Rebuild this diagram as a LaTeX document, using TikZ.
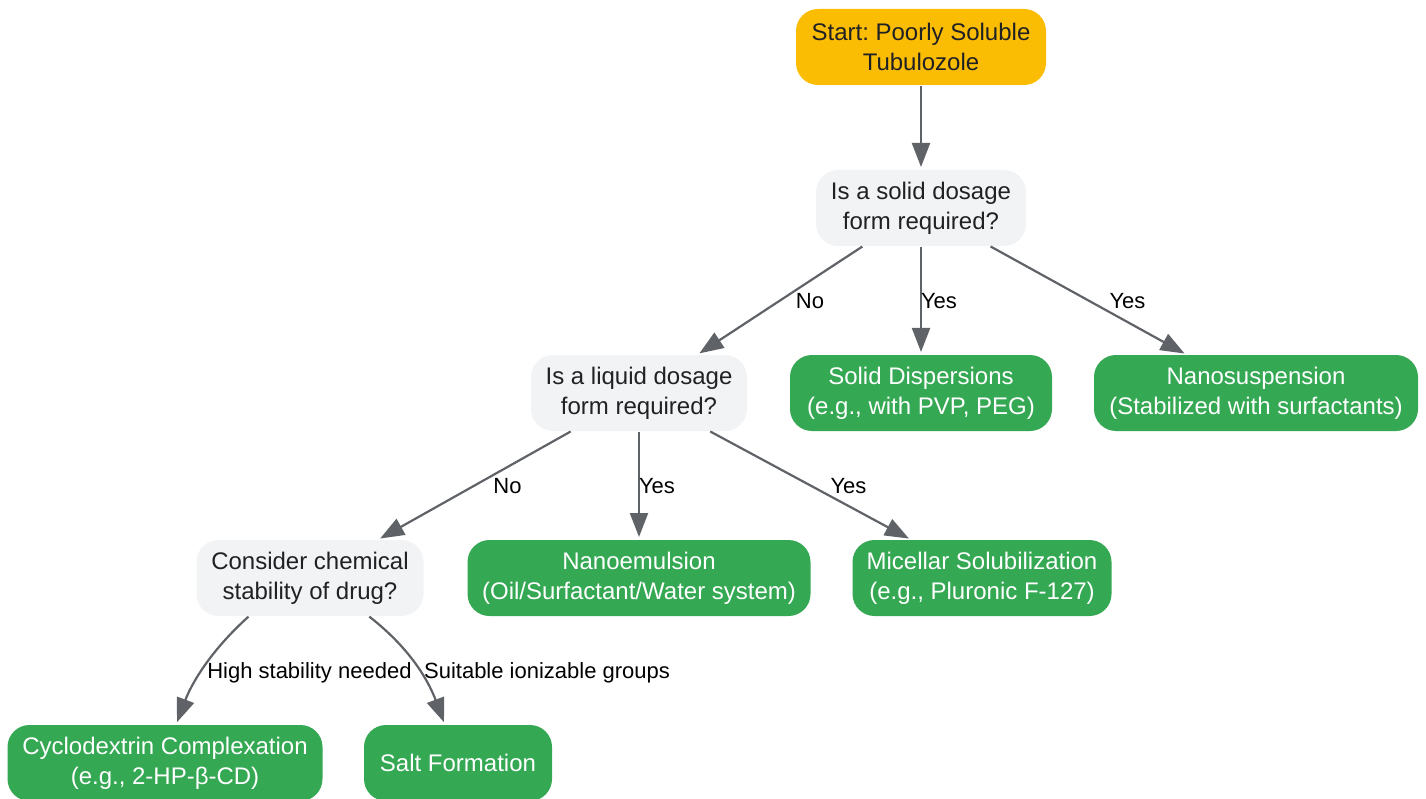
\documentclass[tikz,border=0pt]{standalone}
\usepackage{fontspec}
\setmainfont{Liberation Sans}
\usetikzlibrary{arrows.meta}
\definecolor{startc}{HTML}{FBBC04}
\definecolor{qc}{HTML}{F1F3F4}
\definecolor{gc}{HTML}{34A853}
\definecolor{txt}{HTML}{202124}
\definecolor{edgec}{HTML}{5F6368}
\frenchspacing
\begin{document}
\begin{tikzpicture}[x=1pt,y=1pt,
  box/.style={rounded corners=22pt, minimum height=76pt, align=center,
    font=\fontsize{24}{30}\selectfont, inner sep=0pt, outer sep=0pt},
  startbox/.style={box, fill=startc, text=txt},
  qbox/.style={box, fill=qc, text=txt},
  gbox/.style={box, fill=gc, text=white},
  edge/.style={draw=edgec, line width=2.2pt, -{Triangle[length=24pt,width=18pt]},
    shorten >=3pt, shorten <=1pt},
  lbl/.style={font=\fontsize{22}{26}\selectfont, text=black, inner sep=0pt}
]
\useasboundingbox (0,0) rectangle (1426,-799);

\node[startbox, minimum width=250pt] (start) at (921,-47) {Start: Poorly Soluble\\Tubulozole};
\node[qbox, minimum width=210pt] (q1) at (921,-208) {Is a solid dosage\\form required?};
\node[qbox, minimum width=216pt] (q2) at (639,-393) {Is a liquid dosage\\form required?};
\node[gbox, minimum width=262pt] (solid) at (921,-393) {Solid Dispersions\\(e.g., with PVP, PEG)};
\node[gbox, minimum width=324pt] (nano) at (1256,-393) {Nanosuspension\\(Stabilized with surfactants)};
\node[qbox, minimum width=227pt] (q3) at (310,-578) {Consider chemical\\stability of drug?};
\node[gbox, minimum width=343pt] (nanoem) at (639,-578) {Nanoemulsion\\(Oil/Surfactant/Water system)};
\node[gbox, minimum width=259pt] (mic) at (982,-578) {Micellar Solubilization\\(e.g., Pluronic F-127)};
\node[gbox, minimum width=315pt] (cyc) at (165,-763) {Cyclodextrin Complexation\\(e.g., 2-HP-β-CD)};
\node[gbox, minimum width=188pt] (salt) at (458,-763) {Salt Formation};

\draw[edge] (start) -- (q1);
\draw[edge] (q1) -- (q2) node[lbl, pos=0.5, xshift=30pt, yshift=-1pt] {No};
\draw[edge] (q1) -- (solid) node[lbl, pos=0.5, xshift=18pt, yshift=-1pt] {Yes};
\draw[edge] (q1) -- (nano) node[lbl, pos=0.5, xshift=39pt, yshift=-1pt] {Yes};
\draw[edge] (q2) -- (q3) node[lbl, pos=0.5, xshift=33pt, yshift=-1pt] {No};
\draw[edge] (q2) -- (nanoem) node[lbl, pos=0.5, xshift=18pt, yshift=-1pt] {Yes};
\draw[edge] (q2) -- (mic) node[lbl, pos=0.5, xshift=38pt, yshift=-1pt] {Yes};
\draw[edge] (q3.212) .. controls +(-40,-36) and +(15,40) .. ([xshift=11pt]cyc.north)
  node[lbl, pos=0.5, anchor=west, xshift=3pt, yshift=-4pt] {High stability needed};
\draw[edge] (q3.-33) .. controls +(45,-35) and +(-15,40) .. ([xshift=-13pt]salt.north)
  node[lbl, pos=0.5, anchor=west, xshift=5pt, yshift=-4pt] {Suitable ionizable groups};
\end{tikzpicture}
\end{document}
